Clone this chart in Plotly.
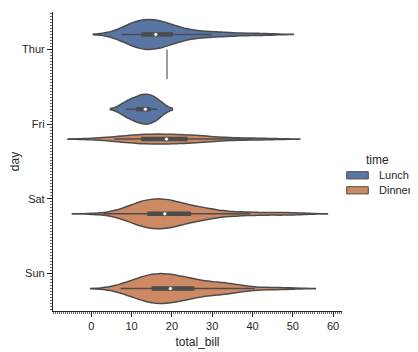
import numpy as np
import plotly.graph_objects as go

# ---- data (total_bill by day / time, read as the tips data) ----
days = ["Thur", "Fri", "Sat", "Sun"]
times = ["Lunch", "Dinner"]

thur_lunch = [27.20, 22.76, 17.29, 19.44, 16.66, 10.07, 32.68, 15.98, 34.83, 13.03, 18.28, 24.71, 21.16,
              10.65, 12.43, 24.08, 11.69, 13.42, 14.26, 15.95, 12.48, 29.80, 8.52, 14.52, 11.38, 22.82,
              19.08, 20.27, 11.17, 12.26, 18.26, 8.51, 10.33, 14.15, 16.00, 13.16, 17.47, 34.30, 41.19,
              27.05, 16.43, 8.35, 18.64, 11.87, 9.78, 7.51,
              19.81, 28.44, 15.48, 16.58, 7.56, 10.34, 43.11, 13.00, 13.51, 18.71, 12.74, 13.00, 16.40,
              20.53, 16.47]
thur_dinner = [18.78]
fri_lunch = [12.16, 13.42, 8.58, 15.98, 13.42, 16.27, 10.09]
fri_dinner = [28.97, 22.49, 5.75, 16.32, 22.75, 40.17, 27.28, 12.03, 21.01, 12.46, 11.35, 15.38]
sat_dinner = [20.65, 17.92, 20.29, 15.77, 39.42, 19.82, 17.81, 13.37, 12.69, 21.70, 19.65, 9.55, 18.35,
              15.06, 20.69, 17.78, 24.06, 16.31, 16.93, 18.69, 31.27, 16.04,
              38.01, 26.41, 11.24, 48.27, 20.29, 13.81, 11.02, 18.29, 17.59, 20.08, 16.45, 3.07, 20.23,
              15.01, 12.02, 17.07, 26.86, 25.28, 14.73, 10.51, 17.92,
              44.30, 22.42, 20.92, 15.36, 20.49, 25.21, 18.24, 14.31, 14.00, 7.25,
              10.59, 10.63, 50.81, 15.81,
              26.59, 38.73, 24.27, 12.76, 30.06, 25.89, 48.33, 13.27, 28.17, 12.90, 28.15, 11.59, 7.74,
              30.14,
              20.45, 13.28, 22.12, 24.01, 15.69, 11.61, 10.77, 15.53, 10.07, 12.60, 32.83, 35.83, 29.03,
              27.18, 22.67, 17.82]
sun_dinner = [16.99, 10.34, 21.01, 23.68, 24.59, 25.29, 8.77, 26.88, 15.04, 14.78, 10.27, 35.26, 15.42,
              18.43, 14.83, 21.58, 10.33, 16.29, 16.97,
              17.46, 13.94, 9.68, 30.40, 18.29, 22.23, 32.40, 28.55, 18.04, 12.54, 10.29, 34.81, 9.94,
              25.56, 19.49,
              38.07, 23.95, 25.71, 17.31, 29.93,
              14.07, 13.13, 17.26, 24.55, 19.77, 29.85, 48.17, 25.00, 13.39, 16.49, 21.50, 12.66, 16.21,
              13.81, 17.51, 24.52, 20.76, 31.71,
              7.25, 31.85, 16.82, 32.90, 17.89, 14.48, 9.60, 34.63, 34.65, 23.33, 45.35, 23.17, 40.55,
              20.69, 20.90, 30.46, 18.15, 23.10, 15.69]

groups = {
    ("Thur", "Lunch"): thur_lunch, ("Thur", "Dinner"): thur_dinner,
    ("Fri", "Lunch"): fri_lunch, ("Fri", "Dinner"): fri_dinner,
    ("Sat", "Dinner"): sat_dinner, ("Sun", "Dinner"): sun_dinner,
}

colors = {"Lunch": "#5875a4", "Dinner": "#cc8963"}
gray = "#4c4c4c"
txt = "#262626"
offsets = {"Lunch": -0.2, "Dinner": 0.2}
FULL = 0.4  # width of one hue violin (category units)


def kde_peak(v, bw):
    grid = np.linspace(v.min() - 2 * bw, v.max() + 2 * bw, 400)
    dens = np.exp(-0.5 * ((grid[:, None] - v[None, :]) / bw) ** 2).sum(1) / (len(v) * bw * np.sqrt(2 * np.pi))
    return dens.max()


# per-violin bandwidth and peak density; area scaling within each day
info = {}
for key, vals in groups.items():
    v = np.asarray(vals, dtype=float)
    if len(v) > 1:
        bw = v.std(ddof=1) * len(v) ** (-0.2)
        info[key] = (v, bw, kde_peak(v, bw))
    else:
        info[key] = (v, None, None)
day_max = {}
for (day, t), (v, bw, pk) in info.items():
    if pk is not None:
        day_max[day] = max(day_max.get(day, 0), pk)

fig = go.Figure()
for (day, t), (v, bw, pk) in info.items():
    pos = days.index(day) + offsets[t]
    if pk is None:
        fig.add_trace(go.Scatter(x=[v[0], v[0]], y=[pos - FULL / 2, pos + FULL / 2], mode="lines",
                                 line=dict(color="#8a817c", width=1.6), showlegend=False, hoverinfo="skip"))
        continue
    fig.add_trace(go.Violin(x=v, y0=pos, orientation="h", width=FULL * pk / day_max[day],
                            scalemode="width", spanmode="soft", bandwidth=bw,
                            fillcolor=colors[t], line=dict(color=gray, width=1.5),
                            points=False, box_visible=False, meanline_visible=False,
                            opacity=1, showlegend=False, name=f"{day} {t}"))
    q25, q50, q75 = np.percentile(v, [25, 50, 75])
    lim = 1.5 * (q75 - q25)
    h1 = v[v >= q25 - lim].min()
    h2 = v[v <= q75 + lim].max()
    fig.add_trace(go.Scatter(x=[h1, h2], y=[pos, pos], mode="lines",
                             line=dict(color=gray, width=1.5), showlegend=False, hoverinfo="skip"))
    fig.add_trace(go.Scatter(x=[q25, q75], y=[pos, pos], mode="lines",
                             line=dict(color=gray, width=4.5), showlegend=False, hoverinfo="skip"))
    fig.add_trace(go.Scatter(x=[q50], y=[pos], mode="markers",
                             marker=dict(color="white", size=4, line=dict(color=gray, width=0.8)),
                             showlegend=False, hoverinfo="skip"))

# page offset of the figure inside the browser window (default body margin)
O = 8
FW, FH = 418 - O, 352 - O
# plot area in window pixels
L, R, T, B = 53, 342, 12, 311
W, H = R - L, B - T
def px(x): return (x - L) / W
def py(y): return (B - y) / H

shapes = []
annotations = [dict(text="time", x=px(377), y=py(160), xref="paper", yref="paper",
                    showarrow=False, xanchor="center", yanchor="middle",
                    font=dict(size=12, color=txt))]
for t, yc in zip(times, [175.3, 190.3]):
    shapes.append(dict(type="rect", xref="paper", yref="paper",
                       x0=px(346.7), x1=px(368.3), y0=py(yc - 3.6), y1=py(yc + 3.6),
                       fillcolor=colors[t], line=dict(color=gray, width=1)))
    annotations.append(dict(text=t, x=px(376.5), y=py(yc), xref="paper", yref="paper",
                            showarrow=False, xanchor="left", yanchor="middle",
                            font=dict(size=11, color=txt)))

fig.update_layout(
    width=FW, height=FH,
    margin=dict(l=L - O, r=418 - R, t=T - O, b=352 - B),
    paper_bgcolor="white", plot_bgcolor="white",
    font=dict(family="Liberation Sans, Arial, sans-serif", size=11, color=txt),
    violinmode="overlay", showlegend=False,
    shapes=shapes, annotations=annotations,
    xaxis=dict(range=[-9.5, 62.2], tickvals=[0, 10, 20, 30, 40, 50, 60], automargin=False,
               showline=True, linecolor=txt, linewidth=1.25, mirror=False,
               ticks="outside", ticklen=5, tickwidth=1.25, tickcolor=txt,
               showgrid=False, zeroline=False,
               minor=dict(ticks="outside", ticklen=2, tickwidth=0.6, tickcolor="#666", dtick=0.5),
               title=dict(text="total_bill", font=dict(size=12, color=txt), standoff=6),
               tickfont=dict(size=11, color=txt)),
    yaxis=dict(range=[3.5, -0.5], tickvals=[0, 1, 2, 3], ticktext=days, automargin=False,
               showline=True, linecolor=txt, linewidth=1.25,
               ticks="outside", ticklen=5, tickwidth=1.25, tickcolor=txt,
               showgrid=False, zeroline=False,
               minor=dict(ticks="outside", ticklen=2, tickwidth=0.6, tickcolor="#666", dtick=0.04),
               title=dict(text="day", font=dict(size=12, color=txt), standoff=4),
               tickfont=dict(size=11, color=txt)),
)

fig.write_html("out.html")
